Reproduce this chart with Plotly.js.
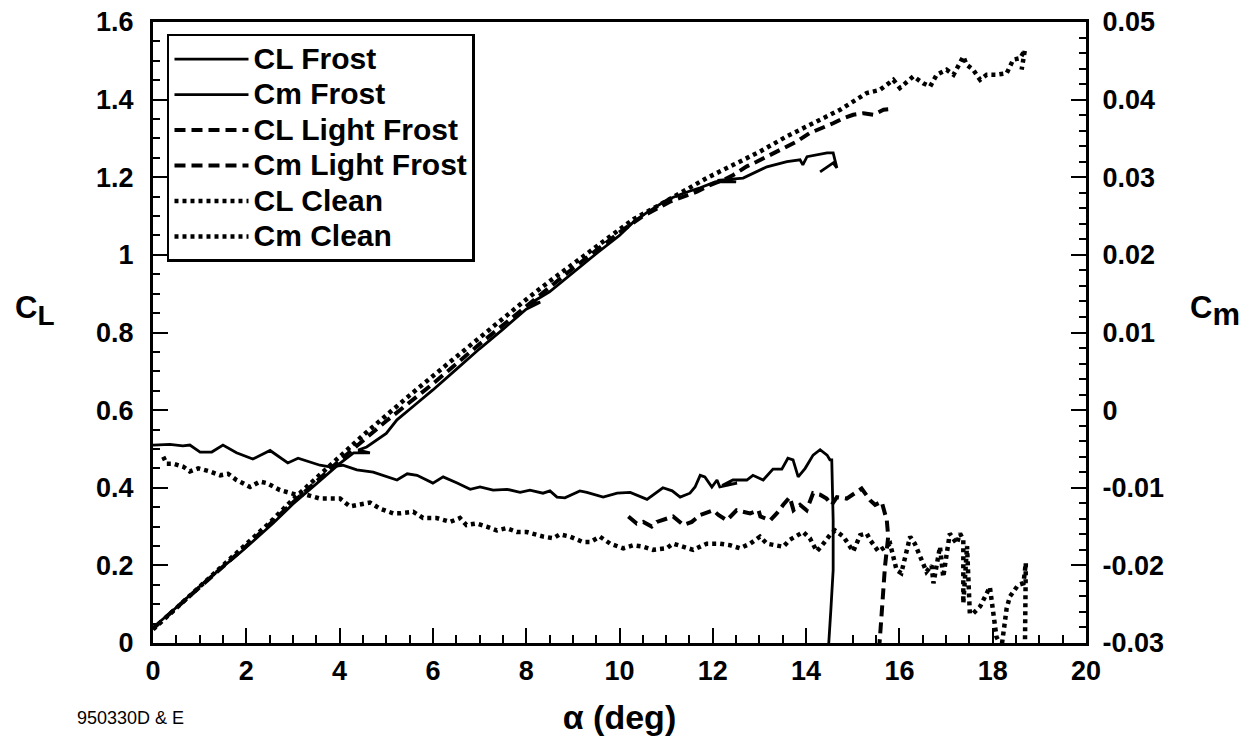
<!DOCTYPE html>
<html>
<head>
<meta charset="utf-8">
<script src="https://cdn.plot.ly/plotly-3.0.1.min.js"></script>
<style>html,body{margin:0;padding:0;background:#fff;}#chart{width:1255px;height:740px;}</style>
</head>
<body>
<div id="chart"></div>
<script>
// ---- data (alpha in deg, CL left axis, Cm right axis) ----
var alphaCLFrost = [0,0.44,1.15,1.86,2.58,3.0,3.5,4.0,4.3,4.65,4.4,4.58,5.0,5.23,5.6,6.0,6.5,7.0,7.5,8.0,8.3,8.05,8.5,9.0,9.5,10.0,10.3,10.6,11.02,11.4,11.73,12.05,12.5,12.1,12.65,13.16,13.59,13.87,13.93,14.02,14.45,14.58,14.66,14.58,14.3];
var clFrost = [0.04,0.085,0.162,0.232,0.309,0.358,0.41,0.462,0.49,0.49,0.497,0.505,0.54,0.575,0.612,0.652,0.705,0.758,0.808,0.86,0.878,0.872,0.905,0.955,1.003,1.05,1.085,1.11,1.142,1.16,1.173,1.188,1.188,1.192,1.198,1.227,1.24,1.245,1.232,1.253,1.263,1.263,1.224,1.237,1.214];

var alphaCmFrost = [0,0.36,0.64,0.79,1.01,1.26,1.5,1.79,2.14,2.51,2.89,3.11,3.58,3.79,4.07,4.37,4.72,5.23,5.45,5.66,6.0,6.22,6.52,6.8,7.01,7.29,7.59,7.87,8.08,8.36,8.51,8.66,8.83,9.15,9.3,9.65,9.95,10.23,10.59,10.93,11.13,11.3,11.51,11.62,11.73,11.83,11.98,12.09,12.15,12.52,12.2,12.43,12.73,12.86,13.08,13.29,13.48,13.61,13.72,13.83,13.98,14.15,14.3,14.45,14.51,14.55,14.58,14.58,14.53,14.47];
var cmFrost = [-0.0045,-0.0044,-0.0046,-0.0045,-0.0054,-0.0054,-0.0045,-0.0055,-0.0063,-0.0052,-0.0068,-0.0062,-0.0071,-0.0073,-0.0071,-0.0077,-0.008,-0.009,-0.0082,-0.0084,-0.0094,-0.0086,-0.0094,-0.0102,-0.0099,-0.0103,-0.0102,-0.0106,-0.0103,-0.0107,-0.0104,-0.0112,-0.0113,-0.0104,-0.0106,-0.0112,-0.0107,-0.0106,-0.0115,-0.01,-0.0104,-0.0112,-0.0107,-0.0099,-0.0084,-0.0086,-0.0099,-0.009,-0.0099,-0.0094,-0.0097,-0.009,-0.009,-0.0084,-0.009,-0.0076,-0.0076,-0.0062,-0.0064,-0.0086,-0.0075,-0.0058,-0.0051,-0.0058,-0.0064,-0.0064,-0.0142,-0.0206,-0.0258,-0.0315];

var alphaCLLight = [0,1,2,3,4,5,6,7,8,9,10,10.5,11.08,11.37,11.66,11.94,12.23,12.44,12.73,12.94,13.23,13.51,13.8,14.08,14.37,14.58,14.8,15.01,15.23,15.44,15.66,15.76];
var clLight = [0.037,0.145,0.25,0.362,0.47,0.572,0.668,0.77,0.868,0.965,1.058,1.1,1.137,1.15,1.163,1.18,1.193,1.206,1.228,1.24,1.258,1.275,1.292,1.314,1.327,1.339,1.352,1.361,1.365,1.361,1.374,1.375];

var alphaCmLight = [10.19,10.37,10.51,10.69,10.8,11.01,11.15,11.37,11.55,11.73,12.01,12.12,12.3,12.51,12.8,12.98,13.02,13.23,13.37,13.51,13.65,13.73,13.87,14.01,14.15,14.3,14.44,14.55,14.66,14.87,15.05,15.19,15.37,15.48,15.62,15.73,15.76,15.69,15.62,15.58,15.55];
var cmLight = [-0.0137,-0.0146,-0.0144,-0.015,-0.0144,-0.0139,-0.0137,-0.0148,-0.0144,-0.0135,-0.0129,-0.0135,-0.0142,-0.0129,-0.0133,-0.0129,-0.0137,-0.0142,-0.0133,-0.0122,-0.0112,-0.0129,-0.0122,-0.0129,-0.0107,-0.0109,-0.0114,-0.0122,-0.0112,-0.0114,-0.0107,-0.0101,-0.0116,-0.0122,-0.0118,-0.0142,-0.0163,-0.0202,-0.0262,-0.0296,-0.032];

var alphaCLClean = [0,0.5,1,1.5,2,2.5,3,3.5,4,4.5,5,5.5,6,6.5,7,7.5,8,8.5,9,9.5,10,10.3,10.8,11.3,11.87,12.44,13.01,13.58,14.15,14.73,15.3,15.58,15.87,16.01,16.3,16.51,16.66,16.8,17.01,17.16,17.37,17.44,17.58,17.73,17.87,18.08,18.3,18.44,18.59,18.69,18.62];
var clClean = [0.035,0.09,0.145,0.2,0.255,0.31,0.37,0.427,0.48,0.535,0.588,0.638,0.688,0.738,0.788,0.838,0.885,0.932,0.977,1.022,1.068,1.092,1.125,1.159,1.198,1.232,1.266,1.305,1.339,1.374,1.417,1.425,1.451,1.43,1.46,1.442,1.434,1.464,1.477,1.464,1.511,1.49,1.477,1.451,1.464,1.464,1.468,1.503,1.507,1.528,1.477];

var alphaCmClean = [0.22,0.29,0.44,0.65,0.79,0.97,1.22,1.44,1.61,1.79,2.08,2.29,2.44,2.72,3.08,3.29,3.58,3.79,4.01,4.22,4.44,4.65,4.87,5.15,5.29,5.58,5.79,6.08,6.37,6.58,6.72,6.94,7.15,7.37,7.58,7.8,8.01,8.22,8.37,8.58,8.72,8.94,9.22,9.37,9.58,9.8,10.08,10.3,10.51,10.72,11.01,11.15,11.37,11.58,11.87,12.15,12.37,12.58,12.8,13.01,13.16,13.37,13.51,13.65,13.87,13.94,14.08,14.23,14.37,14.51,14.62,14.8,15.01,15.16,15.3,15.37,15.55,15.69,15.8,15.94,16.04,16.23,16.33,16.58,16.69,16.73,16.87,16.94,17.08,17.23,17.3,17.37,17.37,17.45,17.51,17.58,17.73,17.94,18.08,18.19,18.3,18.37,18.55,18.66,18.71,18.69];
var cmClean = [-0.006,-0.0069,-0.0069,-0.0073,-0.0079,-0.0075,-0.0079,-0.0084,-0.0082,-0.009,-0.0099,-0.0092,-0.0094,-0.0103,-0.0109,-0.0109,-0.0114,-0.0114,-0.0114,-0.0124,-0.0122,-0.0119,-0.0127,-0.0133,-0.0133,-0.0131,-0.0139,-0.0139,-0.0144,-0.0139,-0.0148,-0.0146,-0.015,-0.0155,-0.0152,-0.0157,-0.0157,-0.0161,-0.0163,-0.0165,-0.016,-0.0163,-0.017,-0.017,-0.0163,-0.0172,-0.0178,-0.0174,-0.0176,-0.018,-0.0178,-0.0172,-0.0176,-0.018,-0.0172,-0.0172,-0.0174,-0.0178,-0.0172,-0.0163,-0.0172,-0.0174,-0.0176,-0.0167,-0.0159,-0.0157,-0.0165,-0.0182,-0.0172,-0.0161,-0.0155,-0.0163,-0.0182,-0.0161,-0.0159,-0.0167,-0.0182,-0.0176,-0.0172,-0.0206,-0.021,-0.0163,-0.0172,-0.0208,-0.02,-0.0223,-0.0176,-0.0215,-0.0159,-0.0172,-0.0159,-0.0167,-0.0249,-0.0175,-0.0262,-0.0262,-0.0253,-0.0228,-0.0292,-0.0305,-0.0255,-0.024,-0.0225,-0.0223,-0.0197,-0.031];

var seriesNames = ["CL Frost","Cm Frost","CL Light Frost","Cm Light Frost","CL Clean","Cm Clean"];

var xTickVals = [0,2,4,6,8,10,12,14,16,18,20];
var xTickText = ["0","2","4","6","8","10","12","14","16","18","20"];
var yTickVals = [0,0.2,0.4,0.6,0.8,1.0,1.2,1.4,1.6];
var yTickText = ["0","0.2","0.4","0.6","0.8","1","1.2","1.4","1.6"];
var y2TickVals = [-0.03,-0.02,-0.01,0,0.01,0.02,0.03,0.04,0.05];
var y2TickText = ["-0.03","-0.02","-0.01","0","0.01","0.02","0.03","0.04","0.05"];

// ---- styles ----
var FONT = "Liberation Sans, Arial, Helvetica, sans-serif";
var solid = {color:"#000", width:2.8, dash:"solid"};
var dashed = {color:"#000", width:4, dash:"11px,6px"};
var dotted = {color:"#000", width:4.5, dash:"4px,4px"};

function legendName(s){ return '<span style="font-size:30px">' + s + '</span>'; }

var traces = [
  {x:alphaCLFrost, y:clFrost, name:legendName(seriesNames[0]), mode:"lines", line:solid, yaxis:"y"},
  {x:alphaCmFrost, y:cmFrost, name:legendName(seriesNames[1]), mode:"lines", line:solid, yaxis:"y2"},
  {x:alphaCLLight, y:clLight, name:legendName(seriesNames[2]), mode:"lines", line:dashed, yaxis:"y"},
  {x:alphaCmLight, y:cmLight, name:legendName(seriesNames[3]), mode:"lines", line:dashed, yaxis:"y2"},
  {x:alphaCLClean, y:clClean, name:legendName(seriesNames[4]), mode:"lines", line:dotted, yaxis:"y"},
  {x:alphaCmClean, y:cmClean, name:legendName(seriesNames[5]), mode:"lines", line:dotted, yaxis:"y2"}
];

var tickFont = {family:FONT, size:27, color:"#000", weight:"bold"};
var axBase = {
  showgrid:false, zeroline:false, showline:true, linecolor:"#000", linewidth:3,
  ticks:"inside", ticklen:15, tickwidth:2, tickcolor:"#000", tickmode:"array",
  tickfont:tickFont, fixedrange:true
};

var layout = {
  width:1255, height:740,
  margin:{l:153, r:169, t:22, b:97, pad:0},
  paper_bgcolor:"#fff", plot_bgcolor:"#fff",
  font:{family:FONT, color:"#000"},
  showlegend:true,
  legend:{
    x:0.015, y:0.981, xanchor:"left", yanchor:"top",
    bgcolor:"#fff", bordercolor:"#000", borderwidth:2.5,
    font:{family:FONT, size:25, color:"#000", weight:"bold"},
    itemwidth:74, tracegroupgap:0
  },
  xaxis: Object.assign({}, axBase, {
    range:[0,20], tickvals:xTickVals, ticktext:xTickText, mirror:true, ticklabelstandoff:2,
    title:{text:"α (deg)", font:{family:FONT, size:34, color:"#000", weight:"bold"}, standoff:20},
    minor:{ticks:"inside", ticklen:8, tickwidth:2, tickcolor:"#000", tickmode:"linear", tick0:0, dtick:0.5, showgrid:false}
  }),
  yaxis: Object.assign({}, axBase, {
    range:[0,1.6], tickvals:yTickVals, ticktext:yTickText, mirror:true, ticklabelstandoff:11,
    minor:{ticks:"inside", ticklen:7, tickwidth:2, tickcolor:"#000", tickmode:"linear", tick0:0, dtick:0.05, showgrid:false}
  }),
  yaxis2: Object.assign({}, axBase, {
    range:[-0.03,0.05], tickvals:y2TickVals, ticktext:y2TickText, ticklabelstandoff:8,
    overlaying:"y", side:"right",
    minor:{ticks:"inside", ticklen:7, tickwidth:2, tickcolor:"#000", tickmode:"linear", tick0:0, dtick:0.002, showgrid:false}
  }),
  annotations:[
    {xref:"paper", yref:"paper", x:-0.150, y:0.535, xanchor:"left", yanchor:"middle", showarrow:false,
     text:'C<sub><span style="font-size:28px">L</span></sub>', font:{family:FONT, size:31, color:"#000", weight:"bold"}},
    {xref:"paper", yref:"paper", x:1.109, y:0.535, xanchor:"left", yanchor:"middle", showarrow:false,
     text:'C<sub><span style="font-size:31px">m</span></sub>', font:{family:FONT, size:31, color:"#000", weight:"bold"}},
    {xref:"paper", yref:"paper", x:-0.0836, y:-0.121, xanchor:"left", yanchor:"middle", showarrow:false,
     text:"950330D &amp; E", font:{family:FONT, size:18, color:"#000"}}
  ]
};

Plotly.newPlot("chart", traces, layout, {displayModeBar:false, staticPlot:true});
</script>
</body>
</html>
